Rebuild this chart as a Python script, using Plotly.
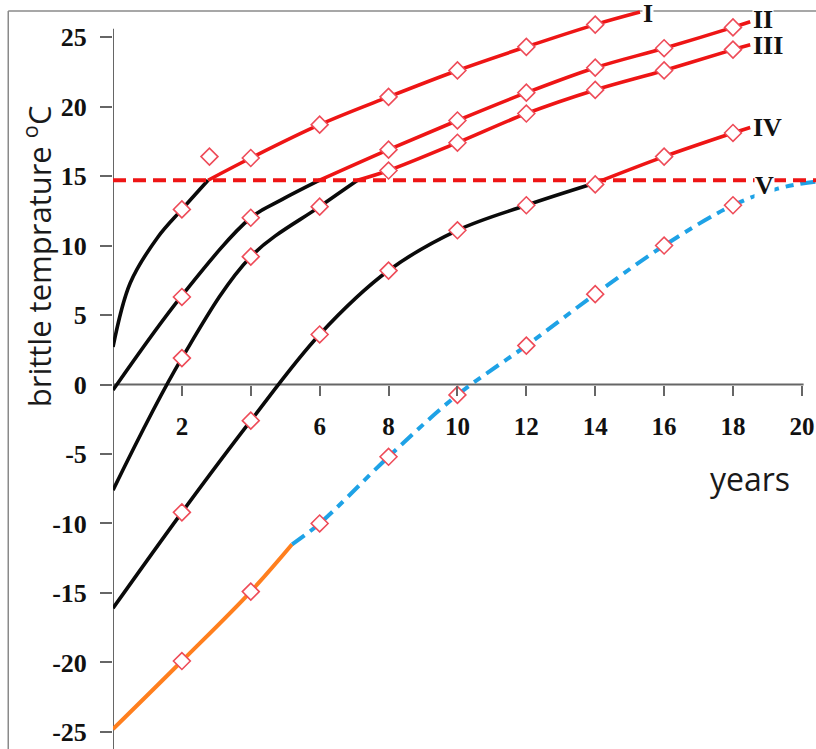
import plotly.graph_objects as go

# ---------------- data ----------------
years_ticks = [2, 4, 6, 8, 10, 12, 14, 16, 18, 20]
years_ticktext = ["2", "", "6", "8", "10", "12", "14", "16", "18", "20"]
temp_ticks = [-25, -20, -15, -10, -5, 0, 5, 10, 15, 20, 25]
temp_ticktext = ["-25", "-20", "-15", "-10", "-5", "0", "5", "10", "15", "20", "25"]

brittle_limit = 14.7

# Curve I
I_black_x = [0, 0.5, 1.3, 2, 2.76]
I_black_y = [2.7, 7.3, 10.6, 12.6, 14.7]
I_red_x = [2.76, 4, 6, 8, 10, 12, 14, 15.3]
I_red_y = [14.7, 16.3, 18.7, 20.7, 22.6, 24.3, 25.9, 26.8]
I_mark_x = [2, 2.8, 4, 6, 8, 10, 12, 14]
I_mark_y = [12.6, 16.4, 16.3, 18.7, 20.7, 22.6, 24.3, 25.9]

# Curve II
II_black_x = [0, 2, 4, 4.9, 6.0]
II_black_y = [-0.4, 6.4, 12.0, 13.3, 14.7]
II_red_x = [6.0, 8, 10, 12, 14, 16, 18, 18.5]
II_red_y = [14.7, 16.9, 19.0, 21.0, 22.8, 24.2, 25.7, 26.1]
II_mark_x = [2, 4, 8, 10, 12, 14, 16, 18]
II_mark_y = [6.3, 12.0, 16.9, 19.0, 21.0, 22.8, 24.2, 25.7]

# Curve III
III_black_x = [0, 2, 4, 6, 7.1]
III_black_y = [-7.6, 1.9, 9.2, 12.8, 14.7]
III_red_x = [7.1, 8, 10, 12, 14, 16, 18, 18.5]
III_red_y = [14.7, 15.4, 17.4, 19.5, 21.2, 22.6, 24.1, 24.45]
III_mark_x = [2, 4, 6, 8, 10, 12, 14, 16, 18]
III_mark_y = [1.9, 9.2, 12.8, 15.4, 17.4, 19.5, 21.2, 22.6, 24.1]

# Curve IV
IV_black_x = [0, 2, 4, 6, 8, 10, 12, 14]
IV_black_y = [-16.1, -9.2, -2.6, 3.6, 8.2, 11.1, 12.9, 14.5]
IV_red_x = [14, 16, 18, 18.5]
IV_red_y = [14.5, 16.4, 18.1, 18.5]
IV_mark_x = [2, 4, 6, 8, 10, 12, 14, 16, 18]
IV_mark_y = [-9.2, -2.6, 3.6, 8.2, 11.1, 12.9, 14.4, 16.4, 18.1]

# Curve V
V_orange_x = [0, 2, 4, 5.2]
V_orange_y = [-24.8, -19.9, -14.9, -11.5]
V_blue_x = [5.2, 6, 8, 10, 12, 14, 16, 18, 19.3, 20.4]
V_blue_y = [-11.5, -10.0, -5.2, -0.75, 2.8, 6.5, 10.0, 12.9, 14.1, 14.6]
V_mark_x = [2, 4, 6, 8, 10, 12, 14, 16, 18]
V_mark_y = [-19.9, -14.9, -10.0, -5.2, -0.75, 2.8, 6.5, 10.0, 12.9]

labels = ["I", "II", "III", "IV", "V"]
label_x = [15.35, 18.55, 18.55, 18.55, 18.6]
label_y = [26.7, 26.3, 24.4, 18.5, 14.3]

# ---------------- styles ----------------
BLACK = "#0a0a0a"
RED = "#EE1515"
ORANGE = "#FF7F1E"
BLUE = "#1EA2E6"
MARK = "#EE4B58"

X_RANGE = [0, 20.41]
Y_RANGE = [-26.23, 27.67]

fig = go.Figure()

def add_line(x, y, color, width=3.6, dash="solid"):
    fig.add_trace(go.Scatter(x=x, y=y, mode="lines",
                             line=dict(color=color, width=width, shape="spline",
                                       smoothing=1.0, dash=dash),
                             hoverinfo="skip", showlegend=False))

for bx, by, rx, ry in [(I_black_x, I_black_y, I_red_x, I_red_y),
                       (II_black_x, II_black_y, II_red_x, II_red_y),
                       (III_black_x, III_black_y, III_red_x, III_red_y),
                       (IV_black_x, IV_black_y, IV_red_x, IV_red_y)]:
    add_line(bx, by, BLACK)
    add_line(rx, ry, RED)

add_line(V_orange_x, V_orange_y, ORANGE, width=4)
add_line(V_blue_x, V_blue_y, BLUE, width=4, dash="15px,7px,8px,7px")

# horizontal brittle limit
fig.add_trace(go.Scatter(x=[X_RANGE[0], X_RANGE[1]], y=[brittle_limit, brittle_limit],
                         mode="lines", line=dict(color=RED, width=4, dash="13px,7px"),
                         hoverinfo="skip", showlegend=False))

for mx, my in [(I_mark_x, I_mark_y), (II_mark_x, II_mark_y), (III_mark_x, III_mark_y),
               (IV_mark_x, IV_mark_y), (V_mark_x, V_mark_y)]:
    fig.add_trace(go.Scatter(x=mx, y=my, mode="markers",
                             marker=dict(symbol="diamond", size=13, color="white",
                                         line=dict(color=MARK, width=1.6)),
                             hoverinfo="skip", showlegend=False))

for t, lx, ly in zip(labels, label_x, label_y):
    fig.add_annotation(x=lx, y=ly, text=t, showarrow=False, xanchor="left", yanchor="middle",
                       font=dict(family="Liberation Serif", size=26, color="#111111",
                                 weight="bold"),
                       bgcolor="white", borderpad=0)

# axis title texts
fig.add_annotation(xref="paper", yref="paper", x=-0.108, y=0.658,
                   xanchor="center", yanchor="middle",
                   text="brittle temprature <sup>o</sup>C", textangle=-90, showarrow=False,
                   font=dict(family="Open Sans", size=31, color="#1a1a1a"))
fig.add_annotation(x=18.5, y=-6.75, text="years", showarrow=False,
                   xanchor="center", yanchor="middle",
                   font=dict(family="Open Sans", size=32, color="#1a1a1a"))

# axis spines
fig.add_shape(type="line", x0=0, x1=20.05, y0=0, y1=0, xref="x", yref="y",
              line=dict(color="#666666", width=2), layer="below")
fig.add_shape(type="line", x0=0, x1=0, y0=Y_RANGE[0], y1=25.6, xref="x", yref="y",
              line=dict(color="#666666", width=2), layer="below")
# outer picture frame
fig.add_shape(type="line", xref="paper", yref="paper", x0=-0.149, x1=1.01,
              y0=1 - 11 / 749, y1=1 - 11 / 749, line=dict(color="#8a8a8a", width=1.5),
              layer="below")
fig.add_shape(type="line", xref="paper", yref="paper", x0=-0.149, x1=-0.149,
              y0=-0.01, y1=1 - 11 / 749, line=dict(color="#8a8a8a", width=1.5),
              layer="below")

x_pos = (0 - Y_RANGE[0]) / (Y_RANGE[1] - Y_RANGE[0])

fig.update_layout(
    width=816, height=749,
    margin=dict(l=113, r=0, t=0, b=0),
    paper_bgcolor="white", plot_bgcolor="white",
    showlegend=False,
    xaxis=dict(range=X_RANGE, anchor="free", position=x_pos, showgrid=False, zeroline=False,
               showline=False, ticks="outside", ticklen=10, tickwidth=1.5, tickcolor="#666666",
               tickvals=years_ticks, ticktext=years_ticktext, ticklabelstandoff=9,
               tickfont=dict(family="Liberation Serif", size=25, color="#111111",
                             weight="bold"),
               fixedrange=True),
    yaxis=dict(range=Y_RANGE, showgrid=False, zeroline=False, showline=False,
               ticks="outside", ticklen=12, tickwidth=1.5, tickcolor="#666666",
               tickvals=temp_ticks, ticktext=temp_ticktext, ticklabelstandoff=8,
               tickfont=dict(family="Liberation Serif", size=26, color="#111111",
                             weight="bold"),
               fixedrange=True),
)

fig.write_html("out.html")
